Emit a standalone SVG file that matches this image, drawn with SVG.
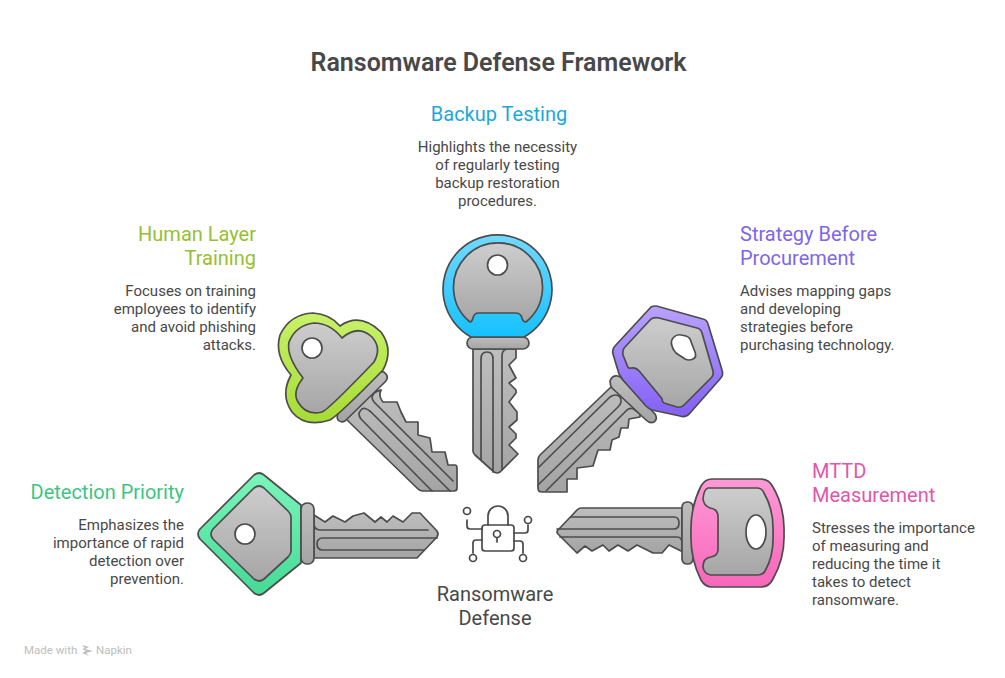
<svg xmlns="http://www.w3.org/2000/svg" width="1005" height="678" viewBox="0 0 1005 678">
<defs>
<linearGradient id="metal" x1="0" y1="0" x2="0" y2="1"><stop offset="0" stop-color="#cdcdcd"/><stop offset="1" stop-color="#a6a6a6"/></linearGradient>
<linearGradient id="blade" x1="0" y1="0" x2="0" y2="1"><stop offset="0" stop-color="#bebebe"/><stop offset="1" stop-color="#a4a4a4"/></linearGradient>
<linearGradient id="gGreen" x1="0" y1="0" x2="0" y2="1"><stop offset="0" stop-color="#7bf5bb"/><stop offset="1" stop-color="#45da95"/></linearGradient>
<linearGradient id="gLime" x1="0" y1="0" x2="0" y2="1"><stop offset="0" stop-color="#c8f268"/><stop offset="1" stop-color="#a6db35"/></linearGradient>
<linearGradient id="gBlue" x1="0" y1="0" x2="0" y2="1"><stop offset="0" stop-color="#72d9ff"/><stop offset="1" stop-color="#16c1ff"/></linearGradient>
<linearGradient id="gPurple" x1="0" y1="0" x2="0" y2="1"><stop offset="0" stop-color="#b8a2ff"/><stop offset="1" stop-color="#8460f5"/></linearGradient>
<linearGradient id="gPink" x1="0" y1="0" x2="0" y2="1"><stop offset="0" stop-color="#ff9ad6"/><stop offset="1" stop-color="#f766ba"/></linearGradient>
</defs>
<style>
text{font-family:Roboto,"Liberation Sans",sans-serif;fill:#484848}
.t{font-size:25px;font-weight:600;text-anchor:middle}
.h{font-size:20px}
.b{font-size:15px}
.e{text-anchor:end}
.m{text-anchor:middle}
.s{stroke:#4c4c4c;stroke-width:1.700;stroke-linejoin:round;stroke-linecap:round}
.l{fill:none}
.mt{fill:url(#metal)}
.bl{fill:url(#blade)}
.hole{fill:#fff}
.i{fill:none;stroke:#484848;stroke-width:1.700;stroke-linecap:round;stroke-linejoin:round}
</style>
<text class="t" x="498.500" y="71">Ransomware Defense Framework</text>

<g id="connectors"></g>

<g id="node-detection">
<path class="s bl" d="M314 515L325 522L333 516L345 522L353 516L364 513L375 522L381 517L387 522L393 516L403 522L412 513H420L437 531Q439 534 437 537L417 558H314Z"/>
<path class="s l" d="M314 523Q314 530 320 530H428M437 538H323Q317 538 317 544Q317 550 323 550H424"/>
<path class="s" fill="url(#gGreen)" d="M254 475Q259 471 264 475L301 505V563L264 593Q259 597 254 593L200 539Q196 534 200 529Z"/>
<path class="s mt" d="M254 488Q259 484 264 488L288 511Q291 514 291 517V551Q291 554 288 557L264 579Q259 583 254 579L213 539Q209 534 213 529Z"/>
<circle class="s hole" cx="245" cy="534" r="10"/>
<rect class="s bl" x="301" y="503" width="13" height="61" rx="6"/>
</g>

<g id="node-human">
<path class="s bl" d="M381 390Q378 396 383 402H397L401 412L406 422H418V435L430 438L432 452H445L448 465H455Q457 465 457 468V488Q457 491 454 491H423Q420 491 418 489L345 418L360 396Z"/>
<path class="s l" d="M381 390Q368 394 374 402L453 481M450 491L371 412Q364 406 361 410Q357 414 361 419L432 491"/>
<path class="s bl" d="M378 372Q383 370 386 374Q389 378 385 382L345 421Q341 423 338 420Q336 416 339 412Z"/>
<path class="s" fill="url(#gLime)" d="M340 326Q330 314 313 313Q290 314 280 335Q274 355 291 375Q280 395 292 412Q305 428 330 420Q340 414 383 370Q394 350 381 332Q360 312 340 326Z"/>
<path class="s mt" d="M342 338Q330 323 314 323Q296 325 289 342Q286 356 303 378Q292 392 298 402Q306 416 322 412Q328 410 374 362Q382 348 372 337Q358 324 342 338Z"/>
<circle class="s hole" cx="312" cy="348" r="10"/>
</g>

<g id="node-backup">
<path class="s bl" d="M473 349V451Q473 453 475 455L494 472Q497 474 500 472L518 454L509 445L516 438V434L509 427L517 420V412L509 402L516 393V390L509 383L516 378L509 365L516 358V349Z"/>
<path class="s l" d="M507 349Q502 350 502 356V470M493 472V359Q493 352 487 352Q481 352 481 359V460"/>
<rect class="s bl" x="467" y="337" width="62" height="12" rx="6"/>
<path class="s" fill="url(#gBlue)" d="M471 337A54.500 54.500 0 1 1 524 337Z"/>
<path class="s mt" d="M470 322A44.500 44.500 0 1 1 526 322Q523 322 522 318Q521 313 515 313H479Q474 313 473 318Q472 322 470 322Z"/>
<circle class="s hole" cx="497.500" cy="265" r="10"/>
</g>

<g id="node-strategy">
<path class="s bl" d="M611 387L540 455Q538 457 538 460V488Q538 492 542 492H567V479H577V468L593 466L598 450H610L612 440L619 437L621 428H628L629 419L640 417L640 405L625 385Z"/>
<path class="s l" d="M539 467L610 397Q616 393 620 397Q623 402 618 407L538 485M546 491L625 412Q630 406 635 410L648 420"/>
<path class="s bl" d="M610 381Q612 375 618 376Q621 377 623 380L655 414Q658 419 654 422Q650 424 646 420L612 388Q610 385 610 381Z"/>
<path class="s" fill="url(#gPurple)" d="M651 307Q655 305 660 307L703 319Q707 320 708 324L722 370Q724 375 720 379L690 413Q686 418 680 416L652 410Q649 409 646 406L623 380Q621 377 619 374L613 354Q612 349 615 346Z"/>
<path class="s mt" d="M651 319Q655 317 659 318L697 328Q701 329 702 333L713 371Q714 375 711 378L684 405Q681 408 677 407L664 403Q662 402 662 399Q661 397 659 395L640 372Q636 367 631 368Q628 369 627 365L623 355Q622 350 625 347Z"/>
<path class="s hole" d="M672 346Q670 341 674 337Q677 334 681 335L686 336Q689 337 690 339L695 352Q697 357 693 359Q689 361 685 359L676 353Q673 350 672 346Z"/>
</g>

<g id="node-mttd">
<path class="s bl" d="M682 508H581Q579 508 577 510L558 530Q556 532 558 534L577 553L585 546L592 551L603 545L609 551L618 545L628 551L637 545L653 553H662L669 545L681 551H682Z"/>
<path class="s l" d="M557 529H674Q679 529 679 523Q679 517 674 517H571M560 537H677Q682 537 682 543"/>
<rect class="s bl" x="682" y="502" width="11" height="62" rx="5"/>
<path class="s" fill="url(#gPink)" d="M712 479H761Q769 479 773 487Q785 508 784 533Q785 558 773 579Q769 587 761 587H712Q705 587 701 580Q690 558 691 533Q690 508 701 486Q705 479 712 479Z"/>
<path class="s mt" d="M708 488H757Q762 488 764 493Q774 510 773 533Q774 556 765 571Q763 575 757 575H711Q704 574 703 567Q703 558 711 557Q718 556 718 549V517Q718 509 710 508Q704 506 703 499Q704 489 708 488Z"/>
<ellipse class="s hole" cx="756" cy="532" rx="10" ry="17"/>
</g>

<g id="node-center">
<rect class="i" x="482" y="525" width="32" height="26" rx="3"/>
<path class="i" d="M488 525V516A10 10 0 0 1 508 516V525"/>
<circle class="i" cx="497" cy="534" r="3.500"/>
<path class="i" d="M497 538V542M467 520V526Q467 529 470 529H482M528 525V530Q528 533 525 533H514M482 540H476Q473 540 473 543V553M514 541H520Q523 541 523 544V553"/>
<circle class="i" cx="467" cy="511" r="3.500"/>
<circle class="i" cx="528" cy="520" r="3.500"/>
<circle class="i" cx="473" cy="558" r="3.500"/>
<circle class="i" cx="523" cy="558" r="3.500"/>
<text class="h m" x="495" y="601">Ransomware</text>
<text class="h m" x="495" y="625">Defense</text>
</g>

<g id="label-backup">
<text class="h m" x="499" y="121" style="fill:#1ba8dc">Backup Testing</text>
<text class="b m" x="497.500" y="152">Highlights the necessity</text>
<text class="b m" x="497.500" y="170">of regularly testing</text>
<text class="b m" x="497.500" y="188">backup restoration</text>
<text class="b m" x="497.500" y="206">procedures.</text>
</g>
<g id="label-human">
<text class="h e" x="256" y="241" style="fill:#95c034">Human Layer</text>
<text class="h e" x="256" y="265" style="fill:#95c034">Training</text>
<text class="b e" x="256" y="296">Focuses on training</text>
<text class="b e" x="256" y="314">employees to identify</text>
<text class="b e" x="256" y="332">and avoid phishing</text>
<text class="b e" x="256" y="350">attacks.</text>
</g>
<g id="label-strategy">
<text class="h" x="740" y="241" style="fill:#7d66ea">Strategy Before</text>
<text class="h" x="740" y="265" style="fill:#7d66ea">Procurement</text>
<text class="b" x="740" y="296">Advises mapping gaps</text>
<text class="b" x="740" y="314">and developing</text>
<text class="b" x="740" y="332">strategies before</text>
<text class="b" x="740" y="350">purchasing technology.</text>
</g>
<g id="label-detection">
<text class="h e" x="184" y="499" style="fill:#3cc584">Detection Priority</text>
<text class="b e" x="184" y="530">Emphasizes the</text>
<text class="b e" x="184" y="548">importance of rapid</text>
<text class="b e" x="184" y="566">detection over</text>
<text class="b e" x="184" y="584">prevention.</text>
</g>
<g id="label-mttd">
<text class="h" x="812" y="478" style="fill:#e455ac">MTTD</text>
<text class="h" x="812" y="502" style="fill:#e455ac">Measurement</text>
<text class="b" x="812" y="533">Stresses the importance</text>
<text class="b" x="812" y="551">of measuring and</text>
<text class="b" x="812" y="569">reducing the time it</text>
<text class="b" x="812" y="587">takes to detect</text>
<text class="b" x="812" y="605">ransomware.</text>
</g>
<g id="footer">
<text x="24" y="654" style="font-size:11.500px;fill:#bdbdbd">Made with</text>
<path d="M82 645L89 647L85 649L93 651L86 653L89 656L82 653L86 651L82 649L85 648Z" fill="#bdbdbd"/>
<text x="96" y="654" style="font-size:11.500px;fill:#bdbdbd">Napkin</text>
</g>
</svg>
